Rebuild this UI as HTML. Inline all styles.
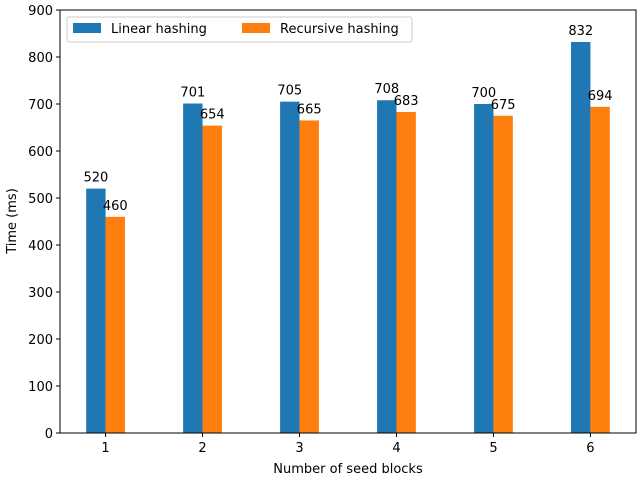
<!DOCTYPE html>
<html><head><meta charset="utf-8"><style>body{margin:0;background:#fff}svg{font-family:"DejaVu Sans","Liberation Sans",sans-serif}</style></head>
<body>
<svg id="chart" width="640" height="480"></svg>
<script>
const categories=["1","2","3","4","5","6"];
const linearValues=[520,701,705,708,700,832];
const recursiveValues=[460,654,665,683,675,694];
const yTicks=[0,100,200,300,400,500,600,700,800,900];
const L=60,R=636,T=10,B=433,xMin=0.53,xMax=6.47,yMax=900;
const xs=v=>L+(v-xMin)/(xMax-xMin)*(R-L);
const ys=v=>B-v/yMax*(B-T);
const svg=document.getElementById('chart');const NS='http://www.w3.org/2000/svg';
function mk(tag,attrs,parent){const e=document.createElementNS(NS,tag);for(const k in attrs)e.setAttribute(k,attrs[k]);(parent||svg).appendChild(e);return e;}
const w=xs(1.2)-xs(1);
categories.forEach((c,i)=>{
  const x=i+1;
  [[linearValues,'#1f77b4',-1,'linear'],[recursiveValues,'#ff7f0e',0,'recursive']].forEach(([arr,col,off,nm])=>{
    const v=arr[i];const x0=xs(x)+off*w;
    const r=mk('rect',{x:x0,y:ys(v),width:w,height:B-ys(v),fill:col});
    
    
    const t=mk('text',{x:x0+w/2,y:ys(v)-7,'text-anchor':'middle','font-size':13});
    t.textContent=v;
    
    
  });
  const tk=mk('line',{x1:xs(x),x2:xs(x),y1:B,y2:B+4,stroke:'#000'});
  const tl=mk('text',{x:xs(x),y:B+19,'text-anchor':'middle','font-size':13});
  tl.textContent=c;
  
  
});
yTicks.forEach(v=>{
  mk('line',{x1:L-4,x2:L,y1:ys(v),y2:ys(v),stroke:'#000'});
  const t=mk('text',{x:L-7,y:ys(v)+5,'text-anchor':'end','font-size':13});
  t.textContent=v;
  
  
});
const fr=mk('rect',{x:L,y:T,width:R-L,height:B-T,fill:'none',stroke:'#000','stroke-width':1});


</script>
<svg style="position:absolute;left:0;top:0" width="640" height="480">
<text x="348" y="473" text-anchor="middle" font-size="13">Number of seed blocks</text>
<text transform="translate(16,221) rotate(-90)" text-anchor="middle" font-size="13">Time (ms)</text>
<g>
<rect x="67" y="17" width="345" height="25" rx="2" fill="#fff" stroke="#ccc"/>
<g><rect x="73" y="23" width="28" height="10" fill="#1f77b4"/><text x="111" y="33" font-size="13">Linear hashing</text></g>
<g><rect x="242" y="23" width="28" height="10" fill="#ff7f0e"/><text x="280" y="33" font-size="13">Recursive hashing</text></g>
</g>
</svg>
</body></html>
